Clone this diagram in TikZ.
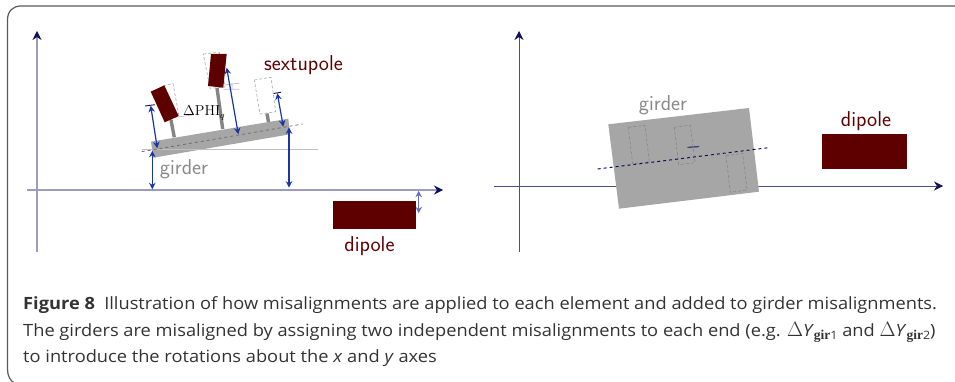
\documentclass[tikz,border=0pt]{standalone}
\usepackage[no-math]{fontspec}
\setmainfont[FakeStretch=1.08]{Open Sans}
\newfontfamily\lmserif{Liberation Serif}
\usetikzlibrary{arrows.meta}
\definecolor{axisl}{HTML}{9C9CC0}
\definecolor{axisr}{HTML}{4C4E8A}
\definecolor{navy}{HTML}{10105A}
\definecolor{wine}{HTML}{5F0000}
\definecolor{grd}{HTML}{A6A6A6}
\definecolor{arr}{HTML}{1A35A8}
\definecolor{lbl}{HTML}{8A8A8A}
\tikzset{
  axisleft/.style={draw=axisl,line width=1.1pt,-{Stealth[length=9pt,width=9pt,color=navy]}},
  axisright/.style={draw=axisr,line width=0.8pt,-{Stealth[length=9pt,width=9pt,color=navy]}},
  ghost/.style={draw=black!35,densely dashed,line width=0.6pt},
  ghostdark/.style={draw=black!50,densely dashed,line width=0.5pt},
  magnet/.style={fill=wine,draw=none},
  girderbody/.style={fill=grd,draw=none},
  stem/.style={draw=grd!80!black,line width=3.4pt},
  dim/.style={draw=arr,line width=1.2pt,{Stealth[length=6.5pt,width=6.5pt]}-{Stealth[length=6.5pt,width=6.5pt]}},
  capline/.style={draw=navy,line width=0.9pt},
  faint/.style={draw=black!25,line width=0.7pt},
  labelw/.style={text=wine,font=\sffamily\fontsize{21.5}{22}\selectfont,inner sep=0pt},
  labelg/.style={text=lbl,font=\sffamily\fontsize{21.5}{22}\selectfont,inner sep=0pt},
  captxt/.style={anchor=base west,inner sep=0pt,text=black!80,font=\fontsize{16.9}{20}\selectfont},
}
\newcommand{\bigdelta}{\mbox{\fontsize{20}{20}\selectfont$\Delta$}}
\newcommand{\girsub}[1]{\raisebox{-3.5pt}{\fontsize{13.5}{13}\selectfont{\lmserif\bfseries gir}{\fontsize{11.5}{12}\selectfont #1}}}
\begin{document}
\begin{tikzpicture}[x=1pt,y=-1pt]
\useasboundingbox (0,0) rectangle (955,382);
% frame
\draw[black!65,line width=1.2pt] (955,6) -- (21,6) .. controls (13,6) and (7.5,11) .. (7.5,20) -- (7.5,369) .. controls (7.5,376) and (10,381) .. (16,384);
% left axes
\draw[axisleft] (37,252) -- (37,31);
\draw[axisleft] (27,190) -- (443,190);
% left girder
\draw[ghost] (163,86) -- (173,83.5) -- (179,116) -- (170,120) -- cycle;
\draw[ghost] (203.3,54) -- (219.3,52.3) -- (225,87) -- (210,88.3) -- cycle;
\draw[ghost] (254.3,80) -- (271,77.3) -- (275.7,111.7) -- (260,114) -- cycle;
\draw[stem] (171,120) -- (174.3,137.3);
\draw[stem] (217,88) -- (222.7,129);
\draw[stem] (267,113.5) -- (268.5,122);
\fill[girderbody] (151,141.7) -- (288.3,118.7) -- (290,134.3) -- (153.3,157.7) -- cycle;
\draw[faint] (141.7,149.3) -- (317.7,149.3);
\draw[black!60,dashed,line width=0.7pt] (141.7,151.7) -- (302.7,124);
\fill[magnet] (150.7,91.7) -- (164.3,85.3) -- (178.7,116) -- (164.7,122.3) -- cycle;
\fill[magnet] (211,54) -- (226.7,54) -- (223.3,87.7) -- (208,86) -- cycle;
\draw[faint] (223.5,85) -- (239.3,83.3) (223.5,89.3) -- (239.3,89.3) (232,83.5) -- (232,89.3);
\draw[faint] (178,117) -- (192,115);
\draw[dim] (150.7,105.7) -- (157.3,148.3);
\draw[dim] (226.7,67.7) -- (238.3,134.3);
\draw[dim] (277.3,93.3) -- (283.3,126.7);
\draw[dim] (152.3,150.7) -- (152.3,189.3);
\draw[dim] (289,127.3) -- (289,187.7);
\draw[dim,draw=arr!70!white] (418.7,190.7) -- (418.7,213.3);
\draw[capline] (145,106) -- (155,104.7);
\draw[capline] (273.5,93.5) -- (281,92.3);
\node[inner sep=0pt,anchor=base west] (phi) at (183,116) {\fontsize{13.5}{14}\selectfont$\Delta\mathrm{PHI}_q$};
\node[labelw] (sext) at (303.5,65) {sextupole};
\node[labelg] (gl) at (184,169.5) {girder};
\fill[magnet] (333,201) rectangle (416,229);
\node[labelw] (dl) at (369.5,246) {dipole};
% right axes
\draw[axisright] (519,252) -- (519,31);
\draw[axisright] (494,186) -- (943,186);
\fill[girderbody] (608.3,124.3) -- (749,108) -- (759,191.7) -- (619,208.7) -- cycle;
\draw[ghostdark] (628.3,127.3) -- (645,125.3) -- (649.3,161.7) -- (632.7,164) -- cycle;
\draw[ghostdark] (674.3,127.3) -- (690.3,125.3) -- (695,162.7) -- (678.7,164.7) -- cycle;
\draw[ghostdark] (726,155.7) -- (742.7,153.3) -- (747,190) -- (730.3,192.3) -- cycle;
\draw[navy,dashed,line width=1pt] (597.7,169) -- (768.3,147.7);
\draw[capline] (687.3,147.3) -- (699,146.7);
\node[labelg] (gr) at (663,105.5) {girder};
\fill[magnet] (822,134) rectangle (907,169);
\node[labelw] (dr) at (866,121) {dipole};
% caption
\node[captxt] (c1) at (23,309) {\textbf{Figure 8}\hspace{0.55em}Illustration of how misalignments are applied to each element and added to girder misalignments.};
\node[captxt] (c2) at (23,336) {The girders are misaligned by assigning two independent misalignments to each end (e.g. \bigdelta\textit{Y}\girsub{1} and \bigdelta\textit{Y}\girsub{2})};
\node[captxt] (c3) at (23,362) {to introduce the rotations about the \textit{x} and \textit{y} axes};
\end{tikzpicture}
\end{document}
